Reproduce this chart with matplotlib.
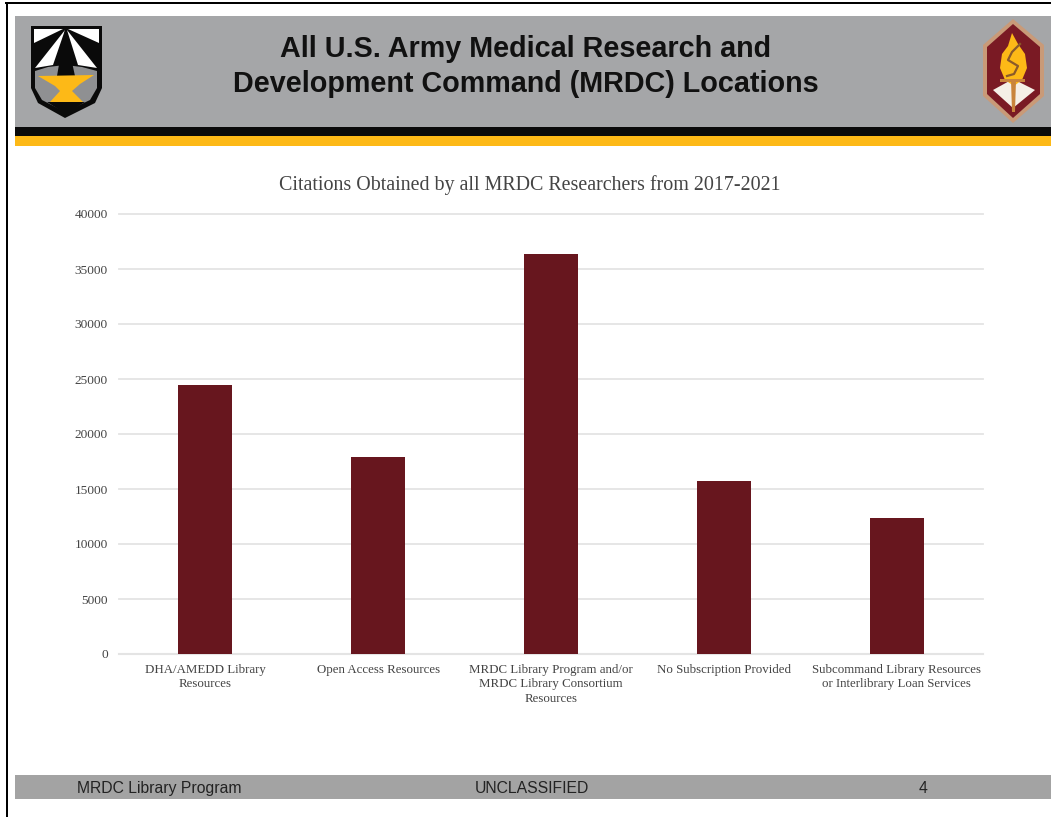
import matplotlib
matplotlib.use('Agg')
import matplotlib.pyplot as plt
from matplotlib.patches import Polygon, Rectangle

categories = ['DHA/AMEDD Library\nResources',
              'Open Access Resources',
              'MRDC Library Program and/or\nMRDC Library Consortium\nResources',
              'No Subscription Provided',
              'Subcommand Library Resources\nor Interlibrary Loan Services']
citations = [24450, 17900, 36360, 15730, 12360]
y_ticks = [0, 5000, 10000, 15000, 20000, 25000, 30000, 35000, 40000]

W, H = 1051, 817
fig = plt.figure(figsize=(W / 100, H / 100), dpi=100)

# page furniture, in pixel coordinates
bg = fig.add_axes([0, 0, 1, 1])
bg.set_xlim(0, W)
bg.set_ylim(H, 0)
bg.axis('off')

def rect(x0, y0, x1, y1, color):
    bg.add_patch(Rectangle((x0, y0), x1 - x0, y1 - y0, color=color, lw=0))

def poly(points, color):
    bg.add_patch(Polygon(points, closed=True, facecolor=color, edgecolor='none', lw=0))

rect(5, 2, W, 3.5, 'black')
rect(5.5, 2, 7.5, H, 'black')
rect(15, 16, W, 127, '#a5a6a8')
rect(15, 127, W, 136, '#0a0a0a')
rect(15, 136, W, 146, '#fdb917')
rect(15, 775, W, 799, '#a3a3a3')

# left badge (shield and anvil)
poly([(31, 26), (102, 26), (102, 88), (95, 103), (65, 118), (38, 103), (31, 88)], '#0a0a0a')
poly([(34, 29), (63, 29), (34, 43)], 'white')
poly([(68, 29), (99, 29), (99, 43)], 'white')
poly([(65, 30), (35, 68), (53, 65)], 'white')
poly([(67, 30), (97, 68), (78, 65)], 'white')
poly([(35, 71), (48, 67), (65, 65), (82, 67), (97, 71), (97, 88), (90, 100), (65, 112), (42, 100), (35, 88)], '#8f9092')
poly([(65, 30), (57, 76), (75, 76)], '#0a0a0a')
poly([(47, 102), (85, 102), (66, 114)], '#0a0a0a')
poly([(38, 76), (94, 75), (80, 84), (72, 91), (83, 102), (50, 102), (60, 91), (55, 86)], '#fdb917')

# right badge (hexagon with flame)
poly([(1013, 19), (1044, 45), (1044, 96), (1013, 123), (983, 96), (983, 45)], '#c99a78')
poly([(1013, 24), (1040, 47), (1040, 94), (1013, 118), (987, 94), (987, 47)], '#7a1a24')
poly([(993, 90), (1013, 79), (1035, 90), (1013, 108)], '#f5efe6')
poly([(1012, 33), (1018, 44), (1025, 54), (1027, 68), (1022, 80), (1014, 86), (1005, 80), (1000, 68), (1002, 54), (1008, 46)], '#fdb917')
poly([(1000, 79), (1025, 79), (1025, 82), (1000, 82)], '#c9843c')
poly([(1011, 80), (1016, 80), (1015, 112), (1012, 112)], '#c9843c')
bg.plot([1020, 1012, 1008, 1018, 1014, 1007], [44, 52, 60, 66, 74, 76], color='#8a5a2a', lw=1.6)

bg.text(525.5, 49, 'All U.S. Army Medical Research and', ha='center', va='center',
        fontsize=20.7, fontweight='bold', family='Liberation Sans', color='#111111')
bg.text(525.5, 84, 'Development Command (MRDC) Locations', ha='center', va='center',
        fontsize=20.7, fontweight='bold', family='Liberation Sans', color='#111111')
bg.text(77, 788.5, 'MRDC Library Program', ha='left', va='center', fontsize=11.3,
        family='Liberation Sans', color='#222222')
bg.text(532, 788.5, 'UNCLASSIFIED', ha='center', va='center', fontsize=11.3,
        family='Liberation Sans', color='#222222')
bg.text(923, 788.5, '4', ha='center', va='center', fontsize=11.3,
        family='Liberation Sans', color='#222222')

# chart
ax = fig.add_axes([119 / W, 1 - 654 / H, 864 / W, 440 / H])
ax.patch.set_alpha(0)
x = range(len(categories))
ax.bar(x, citations, width=0.3125, color='#67161e', zorder=3)
ax.set_xlim(-0.5, 4.5)
ax.set_ylim(0, 40000)
ax.set_yticks(y_ticks)
ax.set_xticks(list(x))
ax.set_xticklabels(categories, fontsize=9.3, family='Liberation Serif', color='#444444', linespacing=1.3)
ax.tick_params(axis='y', labelsize=9.6, labelcolor='#444444', length=0, pad=8)
ax.tick_params(axis='x', length=0, pad=7)
for lbl in ax.get_yticklabels():
    lbl.set_family('Liberation Serif')
ax.grid(axis='y', color='#e4e4e4', lw=1.3, zorder=0, clip_on=False)
ax.set_axisbelow(True)
for s in ['top', 'right', 'left']:
    ax.spines[s].set_visible(False)
ax.spines['bottom'].set_color('#e4e4e4')
ax.spines['bottom'].set_linewidth(1.5)

bg.text(530, 185, 'Citations Obtained by all MRDC Researchers from 2017-2021', ha='center', va='center',
        fontsize=14.4, family='Liberation Serif', color='#444444')

plt.savefig('out.png', dpi=100)
